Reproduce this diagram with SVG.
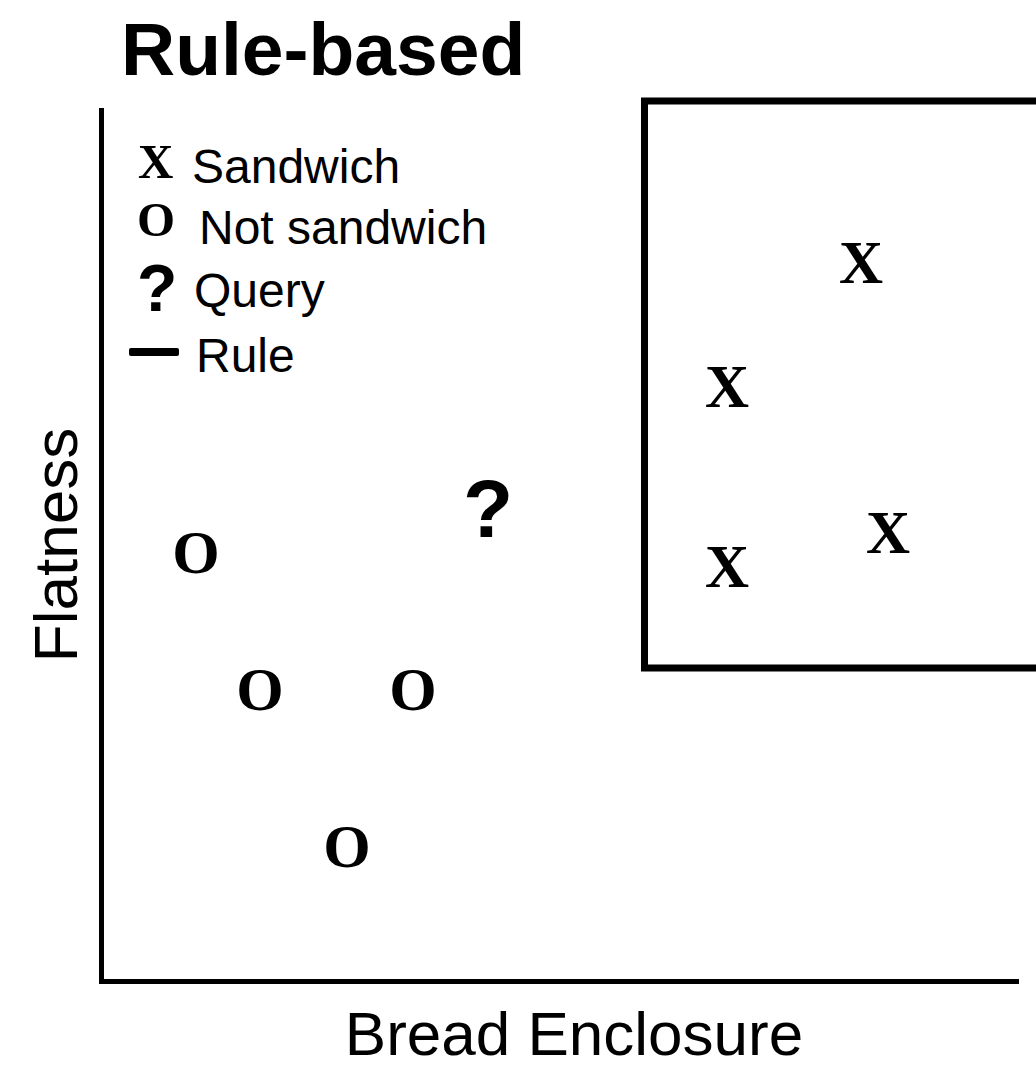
<svg xmlns="http://www.w3.org/2000/svg" width="1036" height="1067" viewBox="0 0 1036 1067">
  <style>
    .sans { font-family: "Liberation Sans", Arial, Helvetica, sans-serif; fill: #000; }
    .title { font-size: 75px; font-weight: bold; }
    .legend { font-size: 48px; }
    .axis-label { font-size: 62px; }
    .mark { font-family: "Liberation Serif", "Times New Roman", serif; font-weight: bold; fill: #000; }
    .pt { font-size: 61px; text-anchor: middle; }
    .lg { font-size: 49px; }
    .axis { stroke: #000; stroke-width: 5; fill: none; }
    .rule { stroke: #000; stroke-width: 7; fill: none; }
  </style>

  <rect width="1036" height="1067" fill="#fff"/>

  <text id="title" class="sans title" x="121" y="75">Rule-based</text>

  <!-- axes -->
  <g id="axes">
    <path class="axis" d="M101.5 108 V981.5 H1019" stroke-linejoin="miter"/>
    <text class="sans axis-label" transform="translate(77 545) rotate(-90)" text-anchor="middle">Flatness</text>
    <text class="sans axis-label" x="574" y="1055" text-anchor="middle" font-size="63">Bread Enclosure</text>
  </g>

  <!-- legend -->
  <g id="legend">
    <text class="mark lg" x="138" y="178">X</text>
    <text class="sans legend" x="192" y="183">Sandwich</text>
    <text class="mark lg" x="137" y="236">O</text>
    <text class="sans legend" x="199" y="244">Not sandwich</text>
    <text class="sans" x="137" y="311" font-size="66" font-weight="bold">?</text>
    <text class="sans legend" x="194" y="307">Query</text>
    <rect x="129" y="348" width="50" height="8" rx="2" fill="#000"/>
    <text class="sans legend" x="196" y="372">Rule</text>
  </g>

  <!-- decision rule region -->
  <g id="rule-box">
    <path class="rule" d="M1040 101 H644.5 V668 H1040"/>
  </g>

  <!-- sandwich examples -->
  <g id="sandwich-1"><text class="mark pt" x="861" y="283">X</text></g>
  <g id="sandwich-2"><text class="mark pt" x="727" y="407">X</text></g>
  <g id="sandwich-3"><text class="mark pt" x="727" y="587">X</text></g>
  <g id="sandwich-4"><text class="mark pt" x="888" y="553">X</text></g>

  <!-- non-sandwich examples -->
  <g id="not-sandwich-1"><text class="mark pt" x="196" y="573">O</text></g>
  <g id="not-sandwich-2"><text class="mark pt" x="260" y="710">O</text></g>
  <g id="not-sandwich-3"><text class="mark pt" x="413" y="710">O</text></g>
  <g id="not-sandwich-4"><text class="mark pt" x="347" y="867">O</text></g>

  <!-- query point -->
  <g id="query"><text class="sans" x="463" y="537" font-size="82" font-weight="bold">?</text></g>
</svg>
